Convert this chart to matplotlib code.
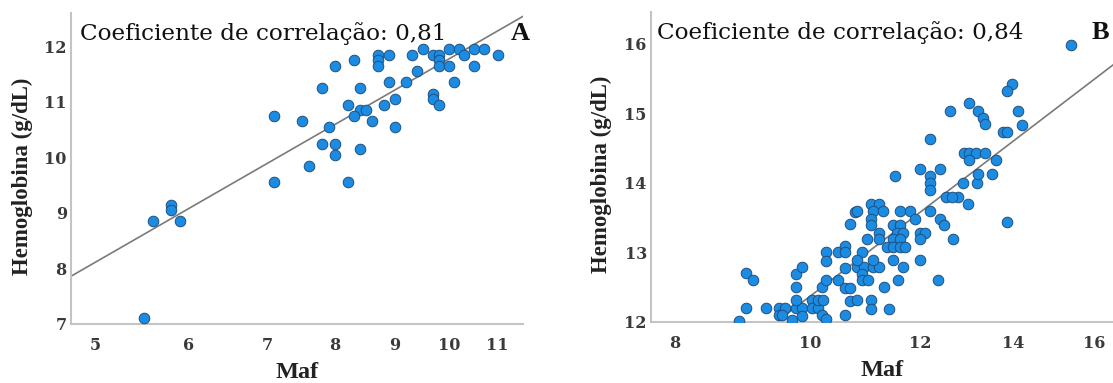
import matplotlib
matplotlib.use("Agg")
import matplotlib.pyplot as plt
from matplotlib.ticker import NullLocator

# painel A
maf_a = [9.5, 10.0, 10.2, 10.5, 10.7,
         8.7, 8.9, 9.3, 9.7, 9.8, 10.3, 11.0,
         8.3, 8.7, 9.8,
         8.0, 8.7, 9.8, 10.0, 10.5,
         9.4,
         8.9, 9.2, 10.1,
         7.8, 8.4,
         9.7,
         9.0, 9.7,
         8.2, 8.8, 9.8,
         8.4, 8.5,
         7.1, 8.3,
         7.5, 8.6,
         7.9, 9.0,
         7.8, 8.0,
         8.4,
         8.0,
         7.6,
         7.1, 8.2,
         5.8,
         5.8,
         5.6, 5.9,
         5.5]
hb_a = [11.95, 11.95, 11.95, 11.95, 11.95,
        11.85, 11.85, 11.85, 11.85, 11.85, 11.85, 11.85,
        11.75, 11.75, 11.75,
        11.65, 11.65, 11.65, 11.65, 11.65,
        11.55,
        11.35, 11.35, 11.35,
        11.25, 11.25,
        11.15,
        11.05, 11.05,
        10.95, 10.95, 10.95,
        10.85, 10.85,
        10.75, 10.75,
        10.65, 10.65,
        10.55, 10.55,
        10.25, 10.25,
        10.15,
        10.05,
        9.85,
        9.55, 9.55,
        9.15,
        9.05,
        8.85, 8.85,
        7.1]
fit_a_x = [4.77, 11.56]
fit_a_y = [7.86, 12.54]

# painel B
maf_b = [9.0, 9.1, 9.0, 8.9, 9.3, 9.5, 9.6, 9.5, 9.55, 9.7,
         9.78, 9.87, 9.78, 9.87, 9.78, 9.78, 9.87, 10.03, 10.03, 10.14,
         10.14, 10.22, 10.2, 10.27, 10.2, 10.27, 10.27, 10.27, 10.48, 10.6,
         10.6, 10.48, 10.6, 10.68, 10.6, 10.68, 10.77, 10.6, 10.68, 10.8,
         11.5, 12.0, 12.4, 12.2, 12.2, 12.2, 12.88, 13.17, 12.53, 12.78,
         12.99, 12.2, 12.4, 12.48, 12.67, 12.0, 12.35, 10.8, 11.07, 11.2,
         11.1, 11.29, 11.6, 11.8,
         11.07, 11.07, 11.48, 11.6, 11.9, 11.2, 11.54, 11.66, 12.0, 12.1,
         10.98, 11.2, 11.48, 11.6, 12.0, 11.35, 11.48, 11.6, 11.7, 10.9,
         10.8, 10.94, 11.1, 11.2, 11.48, 11.66, 10.8, 11.1, 10.9, 10.9,
         11.0, 11.3, 11.57, 11.07, 11.07, 11.4,
         13.97, 13.85, 12.6, 13.0, 13.2, 13.3, 13.35, 14.1, 14.2, 13.75,
         13.85, 12.2, 13.6, 12.9, 13.0, 13.15, 13.35, 13.0, 13.2, 13.5,
         13.85, 15.4, 12.65]
hb_b = [12.7, 12.6, 12.2, 12.02, 12.2, 12.2, 12.2, 12.1, 12.1, 12.03,
        12.2, 12.2, 12.31, 12.08, 12.5, 12.69, 12.79, 12.31, 12.2, 12.2,
        12.31, 12.31, 12.5, 12.6, 12.1, 12.05, 13.0, 12.88, 13.0, 13.09,
        13.0, 12.6, 12.49, 12.49, 12.78, 13.4, 13.58, 12.1, 12.3, 12.31,
        14.1, 14.19, 14.19, 14.09, 14.0, 13.9, 14.0, 14.0, 13.79, 13.79,
        13.69, 13.59, 13.48, 13.39, 13.19, 12.89, 12.6, 13.59, 13.69, 13.69,
        13.59, 13.59, 13.59, 13.59,
        13.48, 13.39, 13.39, 13.39, 13.48, 13.28, 13.28, 13.28, 13.28, 13.28,
        13.19, 13.19, 13.19, 13.19, 13.19, 13.08, 13.08, 13.08, 13.08, 13.0,
        12.79, 12.79, 12.79, 12.79, 12.89, 12.79, 12.89, 12.89, 12.69, 12.6,
        12.6, 12.5, 12.6, 12.31, 12.19, 12.19,
        15.41, 15.32, 15.03, 15.14, 15.03, 14.93, 14.84, 15.03, 14.83, 14.73,
        14.73, 14.63, 14.33, 14.43, 14.43, 14.43, 14.43, 14.33, 14.13, 14.13,
        13.43, 15.97, 13.79]
fit_b_x = [9.46, 16.5]
fit_b_y = [12.0, 15.69]

xticks_a = [5, 6, 7, 8, 9, 10, 11]
yticks_a = [7, 8, 9, 10, 11, 12]
xticks_b = [8, 10, 12, 14, 16]
yticks_b = [12, 13, 14, 15, 16]

serif = ['Liberation Serif', 'DejaVu Serif']
wide_serif = ['DejaVu Serif']
dot_color = '#1c8ce3'
edge_color = '#1f4f80'
spine_color = '#c4c4c4'

fig = plt.figure(figsize=(11.13, 3.83), dpi=100)
ax_a = fig.add_axes([71 / 1113, 1 - 324 / 383, 452 / 1113, 311 / 383])
ax_b = fig.add_axes([651 / 1113, 1 - 322 / 383, 462 / 1113, 310 / 383])

panels = [
    (ax_a, maf_a, hb_a, fit_a_x, fit_a_y, (4.77, 11.56), (7.0, 12.6),
     xticks_a, yticks_a, 'Coeficiente de correlação: 0,81', 'A', 0.02, 0.993),
    (ax_b, maf_b, hb_b, fit_b_x, fit_b_y, (7.69, 16.5), (12.0, 16.45),
     xticks_b, yticks_b, 'Coeficiente de correlação: 0,84', 'B', 0.013, 0.972),
]

for ax, xs, ys, fx, fy, xl, yl, xt, yt, txt, letter, tx, lx in panels:
    ax.set_xscale('log')
    ax.plot(fx, fy, color='#7a7a7a', lw=1.2, zorder=2)
    ax.scatter(xs, ys, s=58, c=dot_color, edgecolors=edge_color,
               linewidths=0.7, zorder=3)
    ax.set_xlim(*xl)
    ax.set_ylim(*yl)
    ax.set_xticks(xt)
    ax.set_xticklabels([str(t) for t in xt])
    ax.xaxis.set_minor_locator(NullLocator())
    ax.set_yticks(yt)
    ax.set_yticklabels([str(t) for t in yt])
    ax.tick_params(length=0, labelsize=11.5, labelcolor='#3a3a3a')
    ax.tick_params(axis='x', pad=9)
    ax.tick_params(axis='y', pad=3)
    for lab in ax.get_xticklabels() + ax.get_yticklabels():
        lab.set_family(wide_serif)
        lab.set_fontweight('bold')
    for side in ['top', 'right']:
        ax.spines[side].set_visible(False)
    for side in ['left', 'bottom']:
        ax.spines[side].set_color(spine_color)
        ax.spines[side].set_linewidth(1.5)
    ax.set_xlabel('Maf', family=serif, fontweight='bold', fontsize=17.5,
                  color='#222222', labelpad=6)
    ax.set_ylabel('Hemoglobina (g/dL)', family=serif, fontweight='bold',
                  fontsize=16.5, color='#222222')
    ax.yaxis.set_label_coords(-0.084, 0.475)
    ax.text(tx, 0.934, txt, transform=ax.transAxes, family=wide_serif,
            fontsize=16.7, va='center', ha='left', color='#111111')
    ax.text(lx, 0.934, letter, transform=ax.transAxes, family=serif,
            fontsize=19, fontweight='bold', va='center', ha='center',
            color='#111111')

plt.savefig('out.png', dpi=100)
